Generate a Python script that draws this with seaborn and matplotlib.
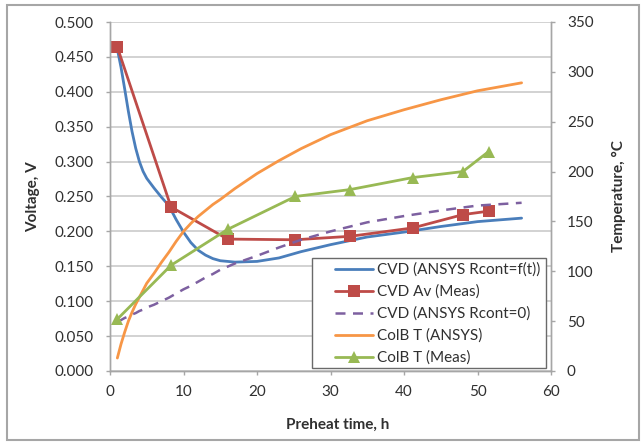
import matplotlib
matplotlib.use("Agg")
import matplotlib.pyplot as plt
import seaborn as sns
import numpy as np
import pandas as pd
from matplotlib.patches import Rectangle
from matplotlib.ticker import FormatStrFormatter, MultipleLocator

# ---------------- data ----------------
t_meas = [1.0, 8.3, 16.0, 25.2, 32.7, 41.2, 48.0, 51.5]
v_meas = [0.464, 0.235, 0.189, 0.188, 0.193, 0.205, 0.224, 0.229]
T_meas = [52, 106, 142, 175, 182, 194, 200, 220]

t_sim = [1, 1.5, 2, 2.5, 3, 3.5, 4, 4.5, 5, 6, 7, 8, 9, 10, 11, 12, 13, 14, 15,
         17, 20, 23, 26, 30, 35, 40, 45, 50, 56]
v_rcont_ft = [0.461, 0.435, 0.404, 0.372, 0.343, 0.319, 0.300, 0.286, 0.276, 0.262,
              0.249, 0.237, 0.217, 0.199, 0.184, 0.173, 0.166, 0.161, 0.158,
              0.156, 0.157, 0.162, 0.171, 0.181, 0.192, 0.199, 0.207, 0.214, 0.219]
v_rcont_0 = [0.071, 0.073, 0.076, 0.078, 0.081, 0.083, 0.086, 0.088, 0.091, 0.095,
             0.100, 0.105, 0.111, 0.117, 0.122, 0.128, 0.134, 0.139, 0.145,
             0.154, 0.165, 0.177, 0.188, 0.200, 0.213, 0.222, 0.230, 0.237, 0.241]
T_ansys = [13, 27, 39, 50, 59, 67, 74, 81, 88, 98,
           109, 119, 130, 140, 148, 155, 161, 167, 172,
           183, 198, 211, 223, 237, 251, 262, 272, 281, 289]

labels = ["CVD (ANSYS Rcont=f(t))", "CVD Av (Meas)", "CVD (ANSYS Rcont=0)",
          "ColB T (ANSYS)", "ColB T (Meas)"]
x_ticks = [0, 10, 20, 30, 40, 50, 60]

# ---------------- style ----------------
sns.set_theme(style="white")
plt.rcParams["font.family"] = ["Lato", "DejaVu Sans"]
txt = "#303030"

c_blue = "#4A7EBB"
c_red = "#BE4B48"
c_purple = "#7D60A0"
c_orange = "#F79646"
c_green = "#98B954"

fig = plt.figure(figsize=(6.42, 4.42), dpi=100)
ax = fig.add_axes([110 / 642, 1 - 371 / 442, 441 / 642, 349 / 442])
ax2 = ax.twinx()

sns.lineplot(x=t_sim, y=v_rcont_ft, ax=ax, color=c_blue, lw=2, label=labels[0], legend=False)
sns.lineplot(x=t_meas, y=v_meas, ax=ax, color=c_red, lw=2, marker="s", markersize=8,
             markeredgewidth=0, label=labels[1], legend=False)
sns.lineplot(x=t_sim, y=v_rcont_0, ax=ax, color=c_purple, lw=1.8, label=labels[2], legend=False)
ax.lines[-1].set_dashes([4, 3])
sns.lineplot(x=t_sim, y=T_ansys, ax=ax2, color=c_orange, lw=2, label=labels[3], legend=False)
sns.lineplot(x=t_meas, y=T_meas, ax=ax2, color=c_green, lw=2, marker="^", markersize=9,
             markeredgewidth=0, label=labels[4], legend=False)

ax.set_xlim(0, 60)
ax.set_ylim(0, 0.5)
ax2.set_ylim(0, 350)
ax.set_xticks(x_ticks)
ax.yaxis.set_major_locator(MultipleLocator(0.05))
ax.yaxis.set_major_formatter(FormatStrFormatter("%.3f"))
ax2.yaxis.set_major_locator(MultipleLocator(50))

ax.grid(True, axis="y", color="#c6c6c6", lw=1.1)
ax.grid(False, axis="x")
ax2.grid(False)
ax.set_axisbelow(True)

for a in (ax, ax2):
    a.spines["top"].set_visible(False)
    for s in ("left", "right", "bottom"):
        a.spines[s].set_color("#a6a6a6")
        a.spines[s].set_linewidth(1)
    a.tick_params(colors="#a6a6a6", labelcolor=txt, labelsize=11, length=3, width=1)
ax.tick_params(axis="y", left=True, pad=8.5)
ax.tick_params(axis="x", bottom=True, pad=7)
ax2.tick_params(axis="y", right=True, pad=8.5)

ax.set_xlabel("Preheat time, h", fontsize=11, fontweight="bold", color=txt)
ax.set_ylabel("Voltage, V", fontsize=11, fontweight="bold", color=txt)
ax2.set_ylabel("Temperature, \u00b0C", fontsize=11, fontweight="bold", color=txt, rotation=90)
ax.xaxis.set_label_coords(0.517, -0.135)
ax.yaxis.set_label_coords(-0.159, 0.5)
ax2.yaxis.set_label_coords(1.138, 0.5)

# legend with a hand-placed frame
ax2.add_patch(Rectangle((0.458, 0.009), 0.53, 0.315, transform=ax2.transAxes,
                        facecolor="white", edgecolor="#6a6a6a", lw=1, zorder=10))
h1, l1 = ax.get_legend_handles_labels()
h2, l2 = ax2.get_legend_handles_labels()
leg = ax2.legend(h1 + h2, l1 + l2, loc="upper left", bbox_to_anchor=(0.51, 0.31),
                 borderaxespad=0, borderpad=0, frameon=False, fontsize=11,
                 handlelength=2.5, handletextpad=0.28, labelspacing=0.5)
leg.set_zorder(11)
for t in leg.get_texts():
    t.set_color(txt)

fig.patches.append(Rectangle((7 / 642, 1 - 440 / 442), 632 / 642, 435 / 442,
                             transform=fig.transFigure, fill=False,
                             edgecolor="#a6a6a6", lw=1.5))

fig.savefig("out.png", dpi=100, facecolor="white")
